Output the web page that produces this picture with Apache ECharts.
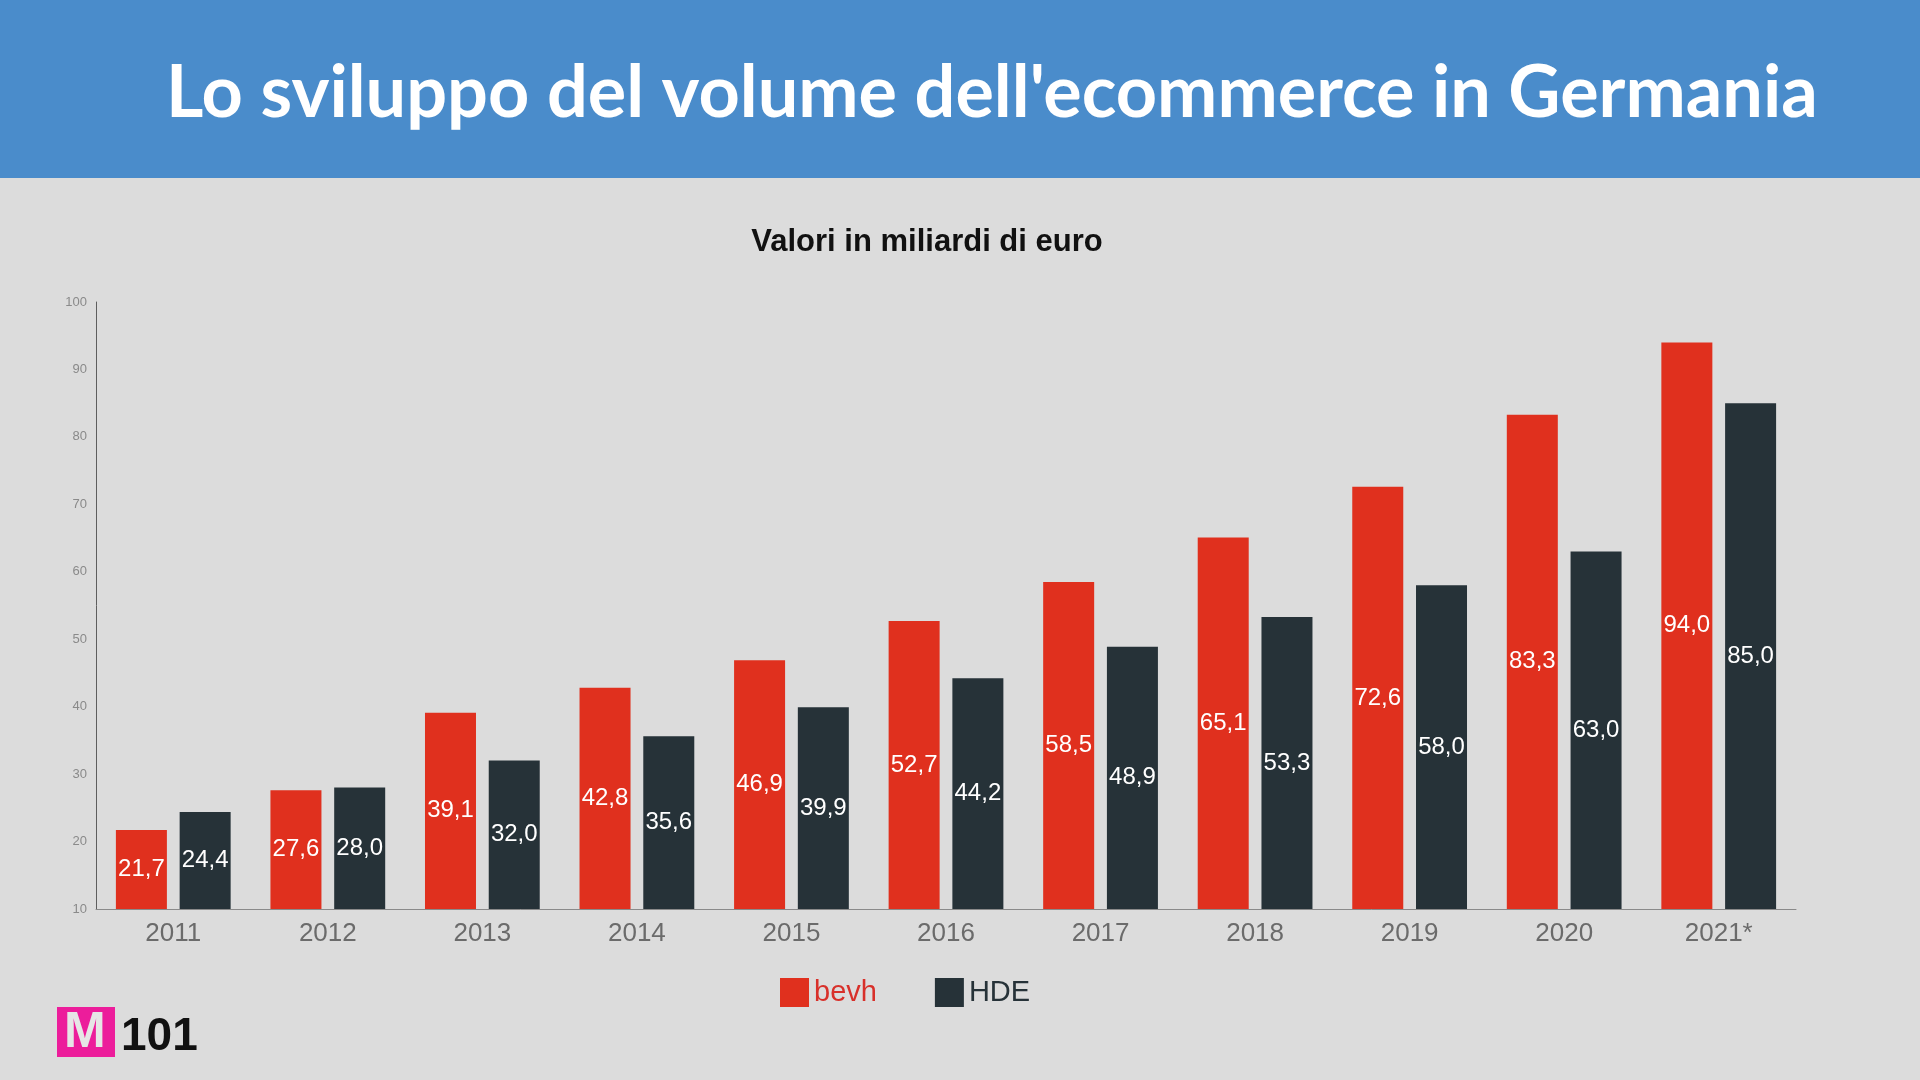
<!DOCTYPE html>
<html>
<head>
<meta charset="utf-8">
<script src="https://cdn.jsdelivr.net/npm/echarts@6/dist/echarts.min.js"></script>
<style>
html,body{margin:0;padding:0;background:#dcdcdc;}
#c{width:1920px;height:1080px;}
</style>
</head>
<body>
<div id="c"></div>
<script>
var categories = ['2011','2012','2013','2014','2015','2016','2017','2018','2019','2020','2021*'];
var bevh = [21.7, 27.6, 39.1, 42.8, 46.9, 52.7, 58.5, 65.1, 72.6, 83.3, 94.0];
var hde = [24.4, 28.0, 32.0, 35.6, 39.9, 44.2, 48.9, 53.3, 58.0, 63.0, 85.0];
var titleText = "Lo sviluppo del volume dell'ecommerce in Germania";
var subtitleText = 'Valori in miliardi di euro';

var chart = echarts.init(document.getElementById('c'));
function fmt(p){ return p.value.toFixed(1).replace('.', ','); }
var option = {
  backgroundColor: '#dcdcdc',
  animation: false,
  graphic: [
    {type:'rect', left:0, top:0, z:0, shape:{width:1920, height:178}, style:{fill:'#4a8ccb'}},
    {type:'text', left:166, top:58, z:10, style:{text:titleText, fill:'#ffffff', font:'bold 72px Lato', textVerticalAlign:'top'}},
    {type:'rect', left:57, top:1007, z:10, shape:{width:58, height:50}, style:{fill:'#ec1d9b'}},
    {type:'text', left:64, top:1008, z:11, style:{text:'M', fill:'#e6e6e6', font:'bold 50px "Liberation Sans"'}},
    {type:'text', left:121, top:1014, z:11, style:{text:'101', fill:'#111111', font:'bold 46px "Liberation Sans"'}}
  ],
  title: {
    text: subtitleText,
    left: 922, top: 222, textAlign: 'center',
    textStyle: {fontFamily:'Liberation Sans', fontWeight:'bold', fontSize:31, color:'#111'}
  },
  legend: {
    top: 973, left: 775,
    itemWidth: 29, itemHeight: 29, itemGap: 58,
    icon: 'rect',
    data: [
      {name:'bevh', textStyle:{color:'#d8302a'}},
      {name:'HDE', textStyle:{color:'#263238'}}
    ],
    textStyle: {fontFamily:'Liberation Sans', fontSize:29, padding:[0,0,0,0]}
  },
  grid: {left:96, right:124, top:302, bottom:171, containLabel:false},
  xAxis: {
    type:'category', data: categories,
    axisLine:{lineStyle:{color:'#8a8a8a', width:1}},
    axisTick:{show:false},
    axisLabel:{color:'#6b6b6b', fontSize:26, fontFamily:'Liberation Sans', margin:12}
  },
  yAxis: {
    type:'value', min:10, max:100, interval:10,
    axisLine:{show:true, lineStyle:{color:'#5e5e5e', width:1}},
    axisTick:{show:false},
    splitLine:{show:false},
    axisLabel:{color:'#8a8a8a', fontSize:13, fontFamily:'Liberation Sans', margin:9}
  },
  series: [
    {name:'bevh', type:'bar', data: bevh, barWidth:51, barGap:'25%',
     itemStyle:{color:'#e0301e'},
     label:{show:true, position:'inside', color:'#ffffff', fontSize:24, fontFamily:'Liberation Sans', formatter: fmt}},
    {name:'HDE', type:'bar', data: hde, barWidth:51,
     itemStyle:{color:'#263238'},
     label:{show:true, position:'inside', color:'#ffffff', fontSize:24, fontFamily:'Liberation Sans', formatter: fmt}}
  ]
};
chart.setOption(option);
</script>
</body>
</html>
